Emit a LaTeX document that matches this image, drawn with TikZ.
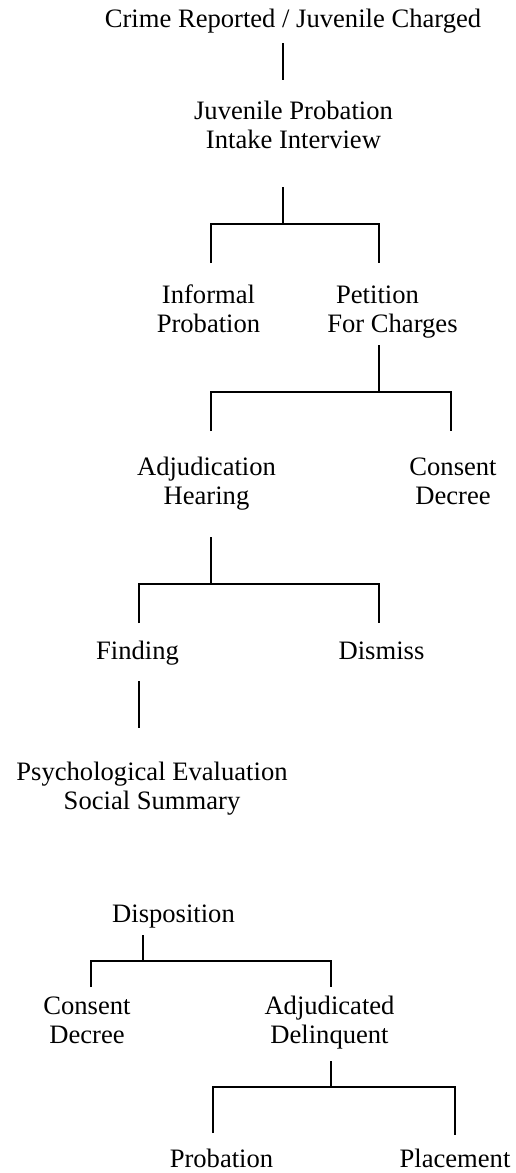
\documentclass[tikz,border=0pt]{standalone}
\usepackage{fontspec}
\setmainfont{Liberation Serif}
\newcommand{\stk}[2]{\begin{tabular}[t]{@{}c@{}}#1\\#2\end{tabular}}
\begin{document}
\begin{tikzpicture}[x=1pt,y=-1pt,
  lbl/.style={anchor=base,inner sep=0pt,outer sep=0pt,font=\fontsize{26.6}{29.5}\selectfont},
  conn/.style={line width=1.6pt,line join=miter}]
\useasboundingbox (0,0) rectangle (516,1173);
% labels
\node[lbl] (crime) at (293,27) {Crime Reported / Juvenile Charged};
\node[lbl] (intake) at (293.5,119) {\stk{Juvenile Probation}{Intake Interview}};
\node[lbl] (informal) at (208.5,303) {\stk{Informal}{Probation}};
\node[lbl] (petition) at (392.5,303) {\begin{tabular}[t]{@{}c@{}}Petition\kern30pt\\For Charges\end{tabular}};
\node[lbl] (adjhear) at (206.5,475) {\stk{Adjudication}{Hearing}};
\node[lbl] (consentA) at (453,475) {\stk{Consent}{Decree}};
\node[lbl] (finding) at (137.5,659) {Finding};
\node[lbl] (dismiss) at (381.5,659) {Dismiss};
\node[lbl] (psych) at (152,780) {\stk{Psychological Evaluation}{Social Summary}};
\node[lbl] (dispo) at (173.5,922) {Disposition};
\node[lbl] (consentB) at (87,1014) {\stk{Consent}{Decree}};
\node[lbl] (adjdel) at (329.5,1014) {\stk{Adjudicated}{Delinquent}};
\node[lbl] (probation) at (221.5,1167.5) {Probation};
\node[lbl] (placement) at (455,1167.5) {Placement};
% connector end points
\coordinate (a1) at (283,43);  \coordinate (a2) at (283,80);
\coordinate (b0) at (283,187); \coordinate (bm) at (283,224);
\coordinate (bl) at (211,224); \coordinate (br) at (379,224);
\coordinate (blb) at (211,263); \coordinate (brb) at (379,263);
\coordinate (c0) at (379,345); \coordinate (cm) at (379,392);
\coordinate (cl) at (211,392); \coordinate (cr) at (451,392);
\coordinate (clb) at (211,431); \coordinate (crb) at (451,431);
\coordinate (d0) at (211,537); \coordinate (dm) at (211,584);
\coordinate (dl) at (139,584); \coordinate (dr) at (379,584);
\coordinate (dlb) at (139,623); \coordinate (drb) at (379,623);
\coordinate (e1) at (139,681); \coordinate (e2) at (139,728);
\coordinate (f0) at (143,935); \coordinate (fm) at (143,961);
\coordinate (fl) at (91,961); \coordinate (fr) at (331,961);
\coordinate (flb) at (91,987); \coordinate (frb) at (331,987);
\coordinate (g0) at (331,1061); \coordinate (gm) at (331,1087);
\coordinate (gl) at (213,1087); \coordinate (gr) at (455,1087);
\coordinate (glb) at (213,1133); \coordinate (grb) at (455,1135);
% connectors
\draw[conn] (a1) -- (a2);
\draw[conn] (b0) -- (bm);
\draw[conn] (blb) -- (bl) -- (br) -- (brb);
\draw[conn] (c0) -- (cm);
\draw[conn] (clb) -- (cl) -- (cr) -- (crb);
\draw[conn] (d0) -- (dm);
\draw[conn] (dlb) -- (dl) -- (dr) -- (drb);
\draw[conn] (e1) -- (e2);
\draw[conn] (f0) -- (fm);
\draw[conn] (flb) -- (fl) -- (fr) -- (frb);
\draw[conn] (g0) -- (gm);
\draw[conn] (glb) -- (gl) -- (gr) -- (grb);
\end{tikzpicture}
\end{document}
